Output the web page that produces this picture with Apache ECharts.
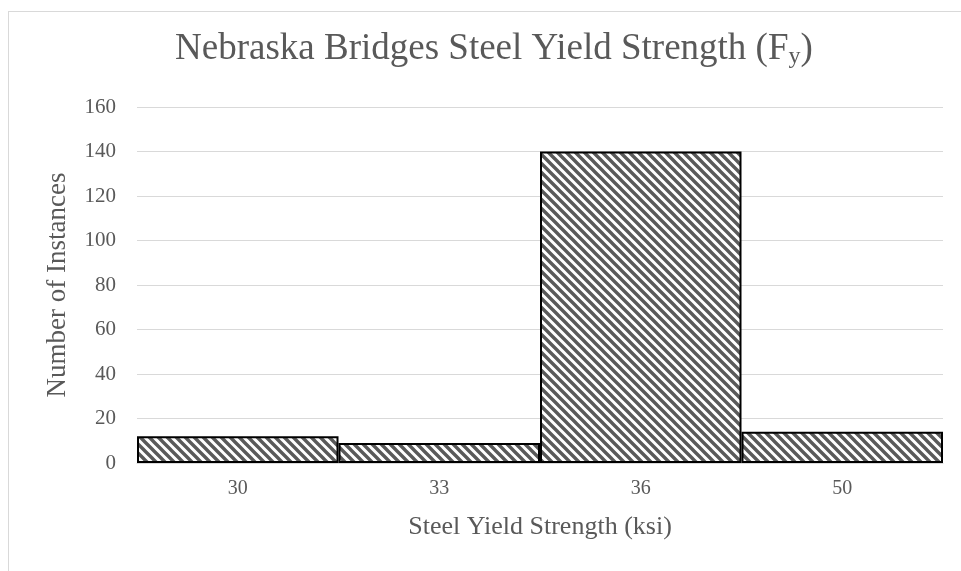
<!DOCTYPE html>
<html>
<head>
<meta charset="utf-8">
<script src="https://cdn.jsdelivr.net/npm/echarts@6/dist/echarts.min.js"></script>
<style>
  html, body { margin: 0; padding: 0; background: #fff; }
  #frame { position: absolute; left: 8px; top: 11px; width: 960px; height: 570px;
           border-left: 1px solid #d9d9d9; border-top: 1px solid #d9d9d9; }
  #chart { position: absolute; left: 0; top: 0; width: 961px; height: 571px; }
</style>
</head>
<body>
<div id="frame"></div>
<div id="chart"></div>
<script>
var categories = ['30', '33', '36', '50'];
var counts = [12, 9, 140, 14];
var yTicks = [0, 20, 40, 60, 80, 100, 120, 140, 160];

// diagonal hatch fill, like the office pattern
function hatch(){
	var s = 9;
	var c = document.createElement('canvas');
	c.width = s; c.height = s;
	var ctx = c.getContext('2d');
	ctx.fillStyle = '#fff';
	ctx.fillRect(0, 0, s, s);
	ctx.strokeStyle = '#5a5a5a';
	ctx.lineWidth = 3.4;
	ctx.beginPath();
	ctx.moveTo(-s, -s); ctx.lineTo(2 * s, 2 * s);
	ctx.moveTo(-s, 0); ctx.lineTo(s, 2 * s);
	ctx.moveTo(0, -s); ctx.lineTo(2 * s, s);
	ctx.stroke();
	return c;
}

var font = '"Liberation Serif", "Times New Roman", serif';
var grey = '#595959';

var ele = document.getElementById('chart');
var ins = echarts.init(ele);
ins.setOption({
	animation: false,
	title: {
		text: 'Nebraska Bridges Steel Yield Strength ({a|F}{b|y}{a|)}',
		left: 170,
		top: 24,
		textStyle: {
			fontFamily: font, fontSize: 37, fontWeight: 'normal', color: grey,
			rich: {
				a: { fontFamily: font, fontSize: 37, color: grey },
				b: { fontFamily: font, fontSize: 24, color: grey, padding: [16, 0, 0, 0] }
			}
		}
	},
	grid: { left: 137, right: 18, top: 107, bottom: 108 },
	xAxis: {
		type: 'category',
		data: categories,
		name: 'Steel Yield Strength (ksi)',
		nameLocation: 'middle',
		nameGap: 51,
		nameTextStyle: { fontFamily: font, fontSize: 26, color: grey },
		axisLine: { show: true, lineStyle: { color: '#d9d9d9', width: 1 } },
		axisTick: { show: false },
		axisLabel: { fontFamily: font, fontSize: 20, color: grey, margin: 16 }
	},
	yAxis: {
		type: 'value',
		min: yTicks[0],
		max: yTicks[yTicks.length - 1],
		interval: 20,
		name: 'Number of Instances',
		nameLocation: 'middle',
		nameGap: 66,
		nameTextStyle: { fontFamily: font, fontSize: 27, color: grey },
		axisLine: { show: false },
		axisTick: { show: false },
		axisLabel: { fontFamily: font, fontSize: 21, color: grey, margin: 21 },
		splitLine: { lineStyle: { color: '#d9d9d9', width: 1 } }
	},
	series: [{
		type: 'bar',
		data: counts,
		barCategoryGap: '0%',
		itemStyle: {
			color: { image: hatch(), repeat: 'repeat' },
			borderColor: '#000',
			borderWidth: 2
		}
	}]
});
</script>
</body>
</html>
